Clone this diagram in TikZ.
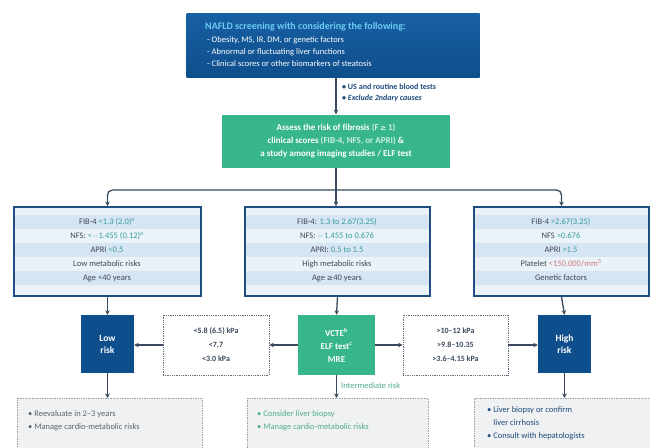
\documentclass[tikz,border=0pt]{standalone}
\usepackage{fontspec}
\setmainfont{Carlito}
\newfontfamily\symfont{DejaVu Sans}
\usetikzlibrary{arrows.meta}
\definecolor{navy}{HTML}{0F4E8C}
\definecolor{navytop}{HTML}{1760A3}
\definecolor{titlecyan}{HTML}{6CCCF2}
\definecolor{mint}{HTML}{37B68C}
\definecolor{mintlight}{HTML}{C9F0E0}
\definecolor{border}{HTML}{1E4E7E}
\definecolor{rowA}{HTML}{D5E5F3}
\definecolor{rowB}{HTML}{EAF3FA}
\definecolor{txt}{HTML}{44484E}
\definecolor{val}{HTML}{3A9C9A}
\definecolor{valred}{HTML}{D07A7A}
\definecolor{conn}{HTML}{3B4A5E}
\definecolor{labblue}{HTML}{1F4A7C}
\definecolor{greytxt}{HTML}{5A6470}
\definecolor{greentxt}{HTML}{4FAE84}
\definecolor{boxfill}{HTML}{F0F1F2}
\definecolor{dotb}{HTML}{9AA0A6}
\newcommand{\mygeq}{{\symfont\fontsize{7.5}{9}\selectfont ≥}}
\begin{document}
\begin{tikzpicture}[x=1pt,y=-1pt,
  arr/.style={draw=conn, line width=1.3pt, -{Stealth[length=4.5pt,width=4.5pt]}},
  line/.style={draw=conn, line width=1.3pt},
  riskbox/.style={fill=navy, text=white, font=\fontsize{9.5}{12}\selectfont\bfseries, align=center, minimum width=53pt, minimum height=58pt, inner sep=0pt},
  greenbox/.style={fill=mint, text=white, font=\fontsize{9}{13}\selectfont\bfseries, align=center, inner sep=0pt},
  dotbox/.style={draw=conn!80, densely dotted, line width=0.8pt, fill=white, font=\fontsize{8}{14}\selectfont\bfseries, text=conn, align=center, minimum width=105pt, minimum height=60pt, inner sep=0pt},
  rowtxt/.style={font=\fontsize{8.5}{10}\selectfont, text=txt, inner sep=0pt},
  tablebox/.style={draw=border, line width=1.8pt, inner sep=0pt},
  notebox/.style={fill=boxfill, draw=dotb, densely dotted, line width=0.7pt},
  notetxt/.style={font=\fontsize{8.5}{13}\selectfont, align=left, inner sep=0pt, anchor=north west}
]
\useasboundingbox (0,0) rectangle (650,447);
\clip (0,0) rectangle (650,447);
\fill[white] (0,0) rectangle (650,447);

% top box
\node[top color=navytop, bottom color=navy, minimum width=293pt, minimum height=64pt, inner sep=0pt] (top) at (333,45) {};
\node[anchor=west, inner sep=0pt, font=\fontsize{10}{12}\selectfont\bfseries, text=titlecyan] (toptitle) at (205,27) {NAFLD screening with considering the following:};
\node[anchor=north west, inner sep=0pt, align=left, font=\fontsize{8.5}{12.2}\selectfont, text=white] (toplist) at (207,36) {- Obesity, MS, IR, DM, or genetic factors\\- Abnormal or fluctuating liver functions\\- Clinical scores or other biomarkers of steatosis};

% green box
\node[greenbox, minimum width=228pt, minimum height=53pt] (assess) at (336,141) {Assess the risk of fibrosis {\color{mintlight}(F\,\mygeq\,1)}\\clinical scores {\color{mintlight}(FIB-4, NFS, or APRI)} \&\\a study among imaging studies / ELF test};

\draw[arr] (top.south -| assess.north) -- (assess.north);
\node[anchor=north west, inner sep=0pt, align=left, font=\fontsize{8}{10.5}\selectfont\bfseries, text=labblue] (screenlab) at (342,84) {\textbullet\ US and routine blood tests\\\textbullet\ \textit{Exclude 2ndary causes}};

% three table boxes
\foreach \xa/\xb in {14/201, 245/430, 474/649}{
  \fill[rowB] (\xa,207) rectangle (\xb,296);
  \fill[rowA] (\xa,215) rectangle (\xb,229);
  \fill[rowA] (\xa,243) rectangle (\xb,257);
  \fill[rowA] (\xa,271) rectangle (\xb,285);
}
\node[tablebox, minimum width=187pt, minimum height=89pt] (lowtab) at (107.5,251.5) {};
\node[tablebox, minimum width=185pt, minimum height=89pt] (midtab) at (337.5,251.5) {};
\node[tablebox, minimum width=175pt, minimum height=89pt] (hightab) at (561.5,251.5) {};

\node[rowtxt] (l1) at (107,222) {FIB-4 {\color{val}<1.3 (2.0)\textsuperscript{a}}};
\node[rowtxt] (l2) at (107,236) {NFS: {\color{val}<$-$1.455 (0.12)\textsuperscript{a}}};
\node[rowtxt] (l3) at (107,250) {APRI {\color{val}<0.5}};
\node[rowtxt] (l4) at (107,264) {Low metabolic risks};
\node[rowtxt] (l5) at (107,278) {Age <40 years};

\node[rowtxt] (m1) at (337,222) {FIB-4: {\color{val}1.3 to 2.67(3.25)}};
\node[rowtxt] (m2) at (337,236) {NFS: {\color{val}$-$1.455 to 0.676}};
\node[rowtxt] (m3) at (337,250) {APRI: {\color{val}0.5 to 1.5}};
\node[rowtxt] (m4) at (337,264) {High metabolic risks};
\node[rowtxt] (m5) at (337,278) {Age \mygeq40 years};

\node[rowtxt] (h1) at (561,222) {FIB-4 {\color{val}>2.67(3.25)}};
\node[rowtxt] (h2) at (561,236) {NFS {\color{val}>0.676}};
\node[rowtxt] (h3) at (561,250) {APRI {\color{val}>1.5}};
\node[rowtxt] (h4) at (561,264) {Platelet {\color{valred}<150,000/mm\textsuperscript{3}}};
\node[rowtxt] (h5) at (561,278) {Genetic factors};

% branching connectors
\coordinate (branch) at (336,190);
\draw[line] (assess.south) -- (branch);
\draw[arr, rounded corners=5pt] (branch) -| (lowtab.north);
\draw[arr, rounded corners=5pt] (branch) -| (hightab.north);
\draw[arr] (branch) -- (branch |- midtab.north);

% risk row
\node[riskbox] (low) at (107.5,344) {Low\\risk};
\node[riskbox] (high) at (564.5,344) {High\\risk};
\node[greenbox, minimum width=77pt, minimum height=60pt, font=\fontsize{9}{13}\selectfont\bfseries] (vcte) at (336.5,345) {VCTE\textsuperscript{b}\\ELF test\textsuperscript{c}\\MRE};
\node[dotbox, minimum width=106pt] (lowcut) at (216,345) {<5.8 (6.5) kPa\\<7.7\\<3.0 kPa};
\node[dotbox, minimum width=105pt] (highcut) at (455.5,345) {>10–12 kPa\\>9.8–10.35\\>3.6–4.15 kPa};

\draw[arr] (lowtab.south) -- (low.north);
\draw[arr] (midtab.south) -- (vcte.north);
\draw[arr] (hightab.south) -- (high.north);

\draw[arr] (vcte.west) -- (lowcut.east);
\draw[arr] (lowcut.west) -- (low.east |- lowcut.west);
\draw[arr] (vcte.east) -- (highcut.west);
\draw[arr] (highcut.east) -- (high.west |- highcut.east);

% bottom note boxes
\node[notebox, minimum width=185pt, minimum height=60pt, anchor=north, inner sep=0pt] (lownote) at (109.5,398) {};
\node[notebox, minimum width=181pt, minimum height=60pt, anchor=north, inner sep=0pt] (midnote) at (337.5,398) {};
\node[notebox, minimum width=178pt, minimum height=60pt, anchor=north, inner sep=0pt] (highnote) at (563,398) {};

\draw[arr] (low.south) -- (low.south |- lownote.north);
\draw[arr] (vcte.south) -- (vcte.south |- midnote.north);
\draw[arr] (high.south) -- (high.south |- highnote.north);

\node[anchor=west, inner sep=0pt, font=\fontsize{8.5}{10}\selectfont, text=greentxt] (interlab) at (341,386) {Intermediate risk};

\node[notetxt, text=greytxt] (lowtxt) at (28,410) {\textbullet\ Reevaluate in 2–3 years\\\textbullet\ Manage cardio-metabolic risks};
\node[notetxt, text=greentxt] (midtxt) at (257,410) {\textbullet\ Consider liver biopsy\\\textbullet\ Manage cardio-metabolic risks};
\node[notetxt, text=labblue] (hightxt) at (487,406) {\textbullet\ Liver biopsy or confirm\\\phantom{\textbullet\ }liver cirrhosis\\\textbullet\ Consult with hepatologists};
\end{tikzpicture}
\end{document}
